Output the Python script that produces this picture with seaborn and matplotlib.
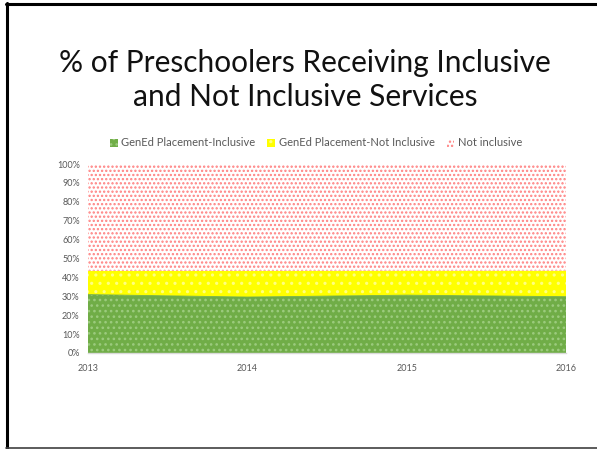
import matplotlib
matplotlib.use("Agg")
import matplotlib.pyplot as plt
from matplotlib.lines import Line2D
from matplotlib.patches import Patch
from matplotlib.ticker import PercentFormatter
import seaborn as sns
import pandas as pd
import numpy as np

years = [2013, 2014, 2015, 2016]
inclusive = [30.9, 29.6, 30.6, 29.8]            # GenEd Placement-Inclusive (%)
not_inclusive_gened = [12.6, 13.9, 13.0, 13.8]  # GenEd Placement-Not Inclusive (%)
not_inclusive = [56.5, 56.5, 56.4, 56.4]        # Not inclusive (%)

labels = ["GenEd Placement-Inclusive", "GenEd Placement-Not Inclusive", "Not inclusive"]

df = pd.DataFrame({
    "year": years,
    "incl": inclusive,
    "gened_not": not_inclusive_gened,
    "not_incl": not_inclusive,
})
df["top1"] = df["incl"]
df["top2"] = df["top1"] + df["gened_not"]
df["top3"] = df["top2"] + df["not_incl"]

sns.set_style("white")
plt.rcParams["font.family"] = ["Lato", "DejaVu Sans"]
plt.rcParams["hatch.linewidth"] = 1.1

green_style = dict(facecolor="#70AD47", edgecolor="#9CCB7E", hatch="...")
yellow_style = dict(facecolor="#FFFF00", edgecolor="#FFFF80", hatch="..")
red_style = dict(facecolor="#FFFFFF", edgecolor="#FF8080", hatch="....")

fig = plt.figure(figsize=(5.97, 4.49), dpi=100)
ax = fig.add_axes([88 / 597, 1 - 353 / 449, (566 - 88) / 597, (353 - 164) / 449])

zero = np.zeros(len(df))
ax.fill_between(df["year"], zero, df["top1"], linewidth=0, **green_style)
ax.fill_between(df["year"], df["top1"], df["top2"], linewidth=0, **yellow_style)
ax.fill_between(df["year"], df["top2"], df["top3"], linewidth=0, **red_style)

# thin boundary line drawn through seaborn
sns.lineplot(data=df, x="year", y="top1", ax=ax, color="#70AD47", linewidth=0.6)

ax.set_xlim(2013, 2016)
ax.set_ylim(0, 100)
ax.set_xticks(years)
ax.set_xticklabels([str(y) for y in years])
ax.set_yticks(np.arange(0, 101, 10))
ax.yaxis.set_major_formatter(PercentFormatter(decimals=0))
ax.tick_params(axis="both", labelsize=6.5, colors="#595959", length=0)
ax.tick_params(axis="x", pad=8)
ax.tick_params(axis="y", pad=6)
ax.set_xlabel("")
ax.set_ylabel("")
for side in ["top", "right", "left"]:
    ax.spines[side].set_visible(False)
ax.spines["bottom"].set_color("#D9D9D9")
ax.spines["bottom"].set_linewidth(1)

handles = [
    Patch(linewidth=0, **green_style),
    Patch(linewidth=0, **yellow_style),
    Patch(linewidth=0, **red_style),
]
fig.legend(handles, labels, loc="center", bbox_to_anchor=(316 / 597, 1 - 143 / 449),
           ncol=3, frameon=False, fontsize=8, labelcolor="#595959",
           handlelength=0.7, handleheight=0.7, handletextpad=0.3, columnspacing=1.1)

fig.text(305 / 597, 1 - 80 / 449, "% of Preschoolers Receiving Inclusive\nand Not Inclusive Services",
         ha="center", va="center", fontsize=21.5, fontweight="normal",
         color="#111111", linespacing=1.3)

# slide frame
fig.add_artist(Line2D([7 / 597, 7 / 597], [0, 1 - 3 / 449], color="black", linewidth=2.2))
fig.add_artist(Line2D([6 / 597, 1], [1 - 4 / 449, 1 - 4 / 449], color="black", linewidth=2.2))
fig.add_artist(Line2D([6 / 597, 1], [1 / 449, 1 / 449], color="#404040", linewidth=1.2))

fig.savefig("out.png", dpi=100)
